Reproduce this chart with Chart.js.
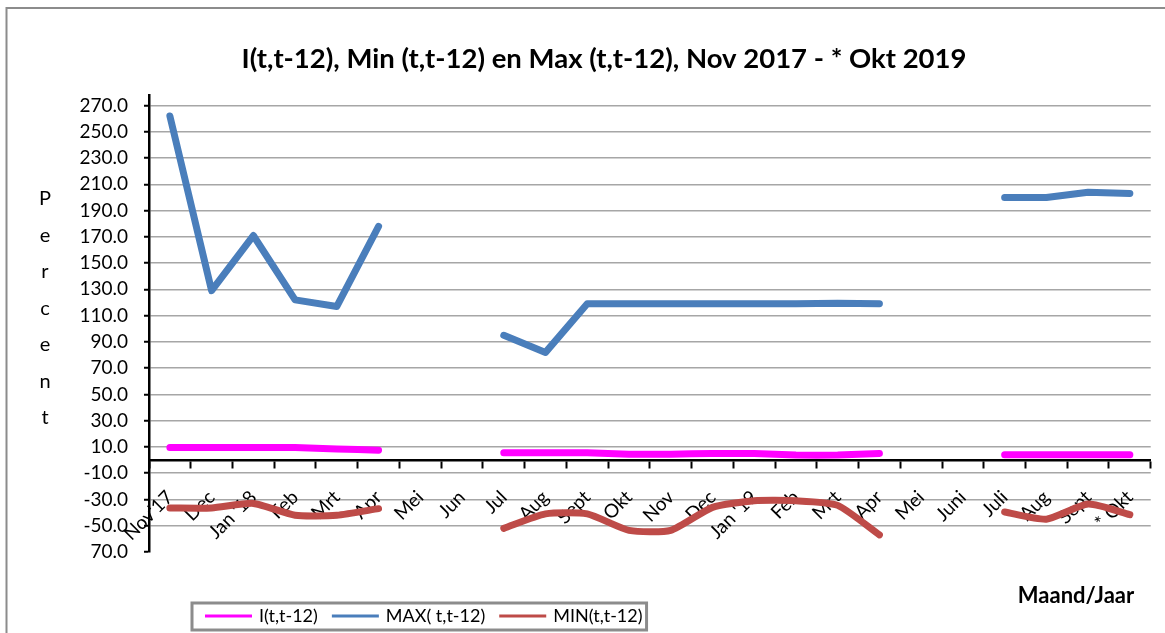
<!DOCTYPE html>
<html>
<head>
<meta charset="utf-8">
<script src="https://cdn.jsdelivr.net/npm/chart.js@4.4.1/dist/chart.umd.min.js"></script>
<style>
  body { margin: 0; background: #fff; }
  #chart { display: block; }
</style>
</head>
<body>
<canvas id="chart" width="1165" height="633"></canvas>
<script>
const months = ["Nov'17", 'Dec', "Jan '18", 'Feb', 'Mrt', 'Apr', 'Mei', 'Jun', 'Jul', 'Aug', 'Sept', 'Okt',
  'Nov', 'Dec', "Jan '19", 'Feb', 'Mrt', 'Apr', 'Mei', 'Juni', 'Juli', 'Aug', 'Sept', '* Okt'];

const indexValues = [9.5, 9.5, 9.5, 9.5, 8.5, 7.5, null, null, 5.5, 5.5, 5.5, 4.5,
  4.5, 5, 5, 3.8, 3.8, 5, null, null, 4, 4, 4, 4];
const maxValues = [262, 129, 171, 122, 117, 178, null, null, 95, 82, 119, 119,
  119, 119, 119, 119, 119.5, 119, null, null, 200, 200, 204, 203];
const minValues = [-36.5, -36.5, -33, -42, -42, -37, null, null, -52, -41, -41, -53.5,
  -53.5, -36, -31, -31, -34.5, -57, null, null, -39.5, -45, -33.5, -41.5];

const yTickValues = [-70, -50, -30, -10, 10, 30, 50, 70, 90, 110, 130, 150, 170, 190, 210, 230, 250, 270];
const yTickLabels = ['70.0', '-50.0', '-30.0', '-10.0', '10.0', '30.0', '50.0', '70.0', '90.0', '110.0',
  '130.0', '150.0', '170.0', '190.0', '210.0', '230.0', '250.0', '270.0'];

const FONT = 'Lato, "Open Sans", sans-serif';
const PAD_LEFT = 44;

// frame, vertical "Percent", x title and the boxed legend
const decor = {
  id: 'decor',
  beforeDraw(chart) {
    const ctx = chart.ctx;
    ctx.save();
    ctx.fillStyle = '#fff';
    ctx.fillRect(0, 0, chart.width, chart.height);
    ctx.strokeStyle = '#8c8c8c';
    ctx.lineWidth = 2;
    ctx.beginPath();
    ctx.moveTo(6.5, chart.height);
    ctx.lineTo(6.5, 8);
    ctx.lineTo(chart.width, 8);
    ctx.stroke();
    ctx.restore();
  },
  afterDraw(chart) {
    const ctx = chart.ctx;
    ctx.save();
    ctx.fillStyle = '#000';
    ctx.textAlign = 'center';
    ctx.textBaseline = 'middle';
    ctx.font = '20px ' + FONT;
    'Percent'.split('').forEach((ch, i) => {
      ctx.fillText(ch, 45, 199 + i * 36.5);
    });
    ctx.font = 'bold 22px ' + FONT;
    ctx.fillText('Maand/Jaar', 1076, 596);

    // legend
    ctx.font = '18px ' + FONT;
    ctx.textAlign = 'left';
    let x = 205;
    const y = 616;
    const items = chart.data.datasets;
    items.forEach((ds, i) => {
      ctx.strokeStyle = ds.borderColor;
      ctx.lineWidth = 3;
      ctx.beginPath();
      ctx.moveTo(x, y);
      ctx.lineTo(x + 47, y);
      ctx.stroke();
      x += 54;
      ctx.fillStyle = '#000';
      ctx.fillText(ds.label, x, y);
      x += ctx.measureText(ds.label).width + (i < items.length - 1 ? 14 : 0);
    });
    ctx.strokeStyle = '#8c8c8c';
    ctx.lineWidth = 3;
    ctx.strokeRect(192, 603, x + 4 - 192, 27);
    ctx.restore();
  }
};

new Chart(document.getElementById('chart'), {
  type: 'line',
  data: {
    labels: months,
    datasets: [
      {
        label: 'I(t,t-12)',
        data: indexValues,
        borderColor: '#ff00ff',
        backgroundColor: '#ff00ff',
        tension: 0.15,
      },
      {
        label: 'MAX( t,t-12)',
        data: maxValues,
        borderColor: '#4a7ebb',
        backgroundColor: '#4a7ebb',
        tension: 0,
      },
      {
        label: 'MIN(t,t-12)',
        data: minValues,
        borderColor: '#be4b48',
        backgroundColor: '#be4b48',
        tension: 0.2,
      },
    ],
  },
  options: {
    responsive: false,
    animation: false,
    layout: { padding: { left: PAD_LEFT, right: 1, bottom: 81, top: 0 } },
    elements: {
      point: { radius: 0 },
      line: { borderWidth: 7, borderCapStyle: 'round', borderJoinStyle: 'round', fill: false },
    },
    spanGaps: false,
    plugins: {
      legend: { display: false },
      tooltip: { enabled: false },
      title: {
        display: true,
        text: 'I(t,t-12), Min (t,t-12) en Max (t,t-12), Nov 2017 - * Okt 2019',
        color: '#000',
        font: { family: FONT, size: 27.5, weight: 'bold' },
        padding: { top: 43, bottom: 19 },
      },
    },
    scales: {
      x: {
        type: 'category',
        position: { y: 0 },
        offset: true,
        z: 1,
        grid: {
          offset: true,
          drawOnChartArea: false,
          drawTicks: true,
          tickLength: 7,
          tickColor: '#000',
          tickWidth: 2,
        },
        border: { color: '#000', width: 2.5 },
        ticks: {
          autoSkip: false,
          minRotation: 45,
          maxRotation: 45,
          padding: 19,
          color: '#000',
          font: { family: FONT, size: 19 },
        },
      },
      y: {
        min: -70,
        max: 278,
        afterBuildTicks: (scale) => {
          scale.ticks = yTickValues.map((v) => ({ value: v }));
        },
        afterFit: (scale) => {
          scale.width = 149 - PAD_LEFT;
        },
        grid: {
          color: (c) => (c.tick && c.tick.value === -70 ? 'rgba(0,0,0,0)' : '#a6a6a6'),
          lineWidth: 1.5,
          tickLength: 5,
          tickColor: '#000',
          tickWidth: 2,
        },
        border: { color: '#000', width: 2.5 },
        ticks: {
          padding: 16,
          color: '#000',
          font: { family: FONT, size: 19 },
          callback: (value, index) => yTickLabels[index],
        },
      },
    },
  },
  plugins: [decor],
});
</script>
</body>
</html>
